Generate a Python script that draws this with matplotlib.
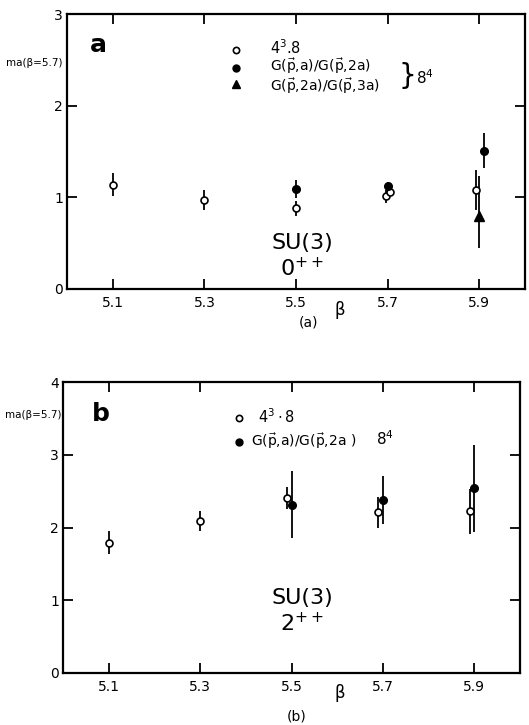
import matplotlib
matplotlib.use("Agg")
import matplotlib.pyplot as plt
import numpy as np

# ---------------- data ----------------
# Panel a (0++)
a_open_x = [5.1, 5.3, 5.5, 5.697, 5.705, 5.893]
a_open_y = [1.14, 0.97, 0.88, 1.01, 1.06, 1.08]
a_open_e = [0.13, 0.11, 0.08, 0.07, 0.05, 0.22]
a_fill_x = [5.5, 5.7, 5.91]
a_fill_y = [1.09, 1.12, 1.51]
a_fill_e = [0.10, 0.05, 0.19]
a_tri_x = [5.90]
a_tri_y = [0.80]
a_tri_elo = [0.35]
a_tri_ehi = [0.43]

# Panel b (2++)
b_open_x = [5.1, 5.3, 5.49, 5.69, 5.89]
b_open_y = [1.79, 2.09, 2.40, 2.21, 2.22]
b_open_e = [0.16, 0.14, 0.15, 0.21, 0.31]
b_fill_x = [5.5, 5.70, 5.90]
b_fill_y = [2.31, 2.38, 2.54]
b_fill_e = [0.46, 0.33, 0.60]

xticks = [5.1, 5.3, 5.5, 5.7, 5.9]
xticklabels = ["5.1", "5.3", "5.5", "5.7", "5.9"]

W, H = 529, 725
fig = plt.figure(figsize=(W / 100, H / 100), dpi=100)

def px(x, y):
    return x / W, 1 - y / H

def style_axes(ax, ymax):
    ax.set_xlim(5.0, 6.0)
    ax.set_ylim(0, ymax)
    ax.set_xticks(xticks)
    ax.set_xticklabels(xticklabels)
    ax.set_yticks(range(0, ymax + 1))
    ax.tick_params(direction="in", top=True, right=True, length=7, width=1.3,
                   labelsize=10, pad=5)
    ax.tick_params(axis="y", pad=3)
    for s in ax.spines.values():
        s.set_linewidth(1.6)

eb_kw = dict(ls="none", ecolor="black", elinewidth=1.3, capsize=0)
LF = 10

# ---------------- panel a ----------------
l, b = 67 / W, 1 - 289 / H
axa = fig.add_axes([l, b, 525 / W - l, (1 - 14 / H) - b])
style_axes(axa, 3)
axa.errorbar(a_open_x, a_open_y, yerr=a_open_e, fmt="o", mfc="white", mec="black",
             mew=1.2, ms=5, **eb_kw)
axa.errorbar(a_fill_x, a_fill_y, yerr=a_fill_e, fmt="o", mfc="black", mec="black",
             ms=5.5, **eb_kw)
axa.errorbar(a_tri_x, a_tri_y, yerr=[a_tri_elo, a_tri_ehi], fmt="^", mfc="black",
             mec="black", ms=6.5, **eb_kw)

# legend a (manual)
axa.plot([0.37], [0.87], "o", mfc="white", mec="black", mew=1.2, ms=4.5,
         transform=axa.transAxes)
axa.plot([0.37], [0.805], "o", color="black", ms=5, transform=axa.transAxes)
axa.plot([0.37], [0.745], "^", color="black", ms=6, transform=axa.transAxes)
fig.text(*px(270, 48), r"$4^3$.8", fontsize=LF + 0.5, va="center")
fig.text(*px(270, 66), r"G($\vec{\rm p}$,a)/G($\vec{\rm p}$,2a)", fontsize=LF, va="center")
fig.text(*px(270, 86), r"G($\vec{\rm p}$,2a)/G($\vec{\rm p}$,3a)", fontsize=LF, va="center")
fig.text(*px(398, 76), "}", fontsize=20, va="center")
fig.text(*px(416, 78), r"8$^4$", fontsize=LF + 1, va="center")

fig.text(*px(90, 45), "a", fontsize=18, fontweight="bold", va="center")
fig.text(*px(6, 63), "ma(β=5.7)", fontsize=7.5, va="center")
fig.text(*px(302, 243), "SU(3)", fontsize=16, ha="center", va="center")
fig.text(*px(302, 268), r"0$^{++}$", fontsize=16, ha="center", va="center")
fig.text(*px(340, 310), "β", fontsize=12, ha="center", va="center")
fig.text(*px(308, 323), "(a)", fontsize=10, ha="center", va="center")

# ---------------- panel b ----------------
l, b = 63 / W, 1 - 673 / H
axb = fig.add_axes([l, b, 520 / W - l, (1 - 382 / H) - b])
style_axes(axb, 4)
axb.errorbar(b_open_x, b_open_y, yerr=b_open_e, fmt="o", mfc="white", mec="black",
             mew=1.2, ms=5, **eb_kw)
axb.errorbar(b_fill_x, b_fill_y, yerr=b_fill_e, fmt="o", mfc="black", mec="black",
             ms=5.5, **eb_kw)

axb.plot([0.385], [0.875], "o", mfc="white", mec="black", mew=1.2, ms=4.5,
         transform=axb.transAxes)
axb.plot([0.385], [0.795], "o", color="black", ms=5, transform=axb.transAxes)
fig.text(*px(258, 417), r"$4^3\cdot$8", fontsize=LF + 0.5, va="center")
fig.text(*px(251, 441), r"G($\vec{\rm p}$,a)/G($\vec{\rm p}$,2a )", fontsize=LF, va="center")
fig.text(*px(376, 439), r"8$^4$", fontsize=LF + 1, va="center")

fig.text(*px(92, 414), "b", fontsize=18, fontweight="bold", va="center")
fig.text(*px(5, 415), "ma(β=5.7)", fontsize=7.5, va="center")
fig.text(*px(302, 598), "SU(3)", fontsize=16, ha="center", va="center")
fig.text(*px(302, 623), r"2$^{++}$", fontsize=16, ha="center", va="center")
fig.text(*px(340, 693), "β", fontsize=12, ha="center", va="center")
fig.text(*px(297, 716), "(b)", fontsize=10, ha="center", va="center")

fig.savefig("out.png", dpi=100)
